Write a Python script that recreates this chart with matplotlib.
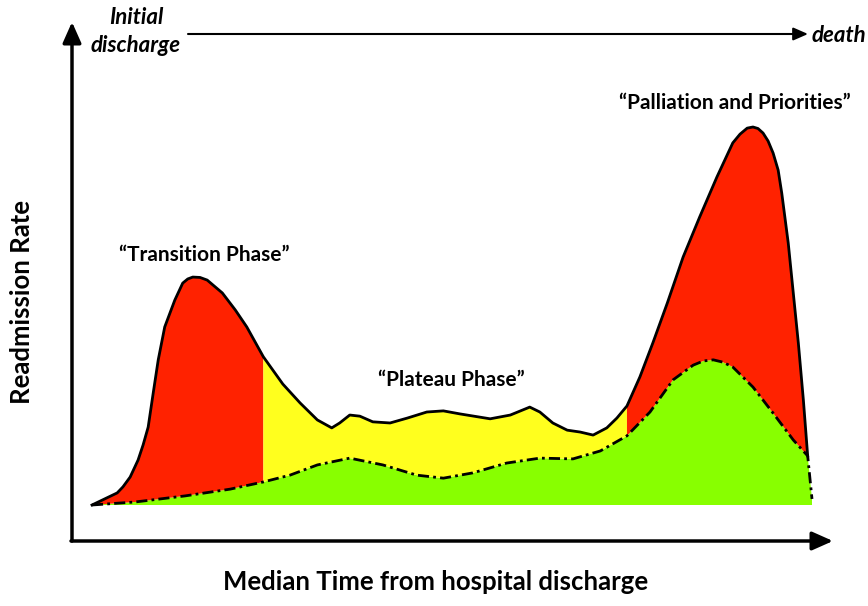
import numpy as np
import matplotlib
matplotlib.use('Agg')
import matplotlib.pyplot as plt
from matplotlib.patches import FancyArrowPatch

# upper curve (overall readmission rate); time in % of survival, rate in % of peak
upper_t = [0, 3.5, 4.3, 5.3, 6.4, 7.1, 7.8, 8.5, 9.2, 10.1, 11.5, 12.6, 13.3, 14.0, 15.0,
           16.0, 18.1, 19.9, 21.5, 23.8, 26.5, 28.9, 31.3, 33.3, 34.4, 35.8, 37.2, 39.0,
           41.4, 43.8, 46.5, 48.8, 51.1, 55.3, 58.1, 60.8, 62.2, 64.0, 66.0, 67.8, 69.6,
           71.5, 72.9, 74.3, 76.1, 77.9, 79.9, 82.1, 84.4, 86.8, 89.0, 90.0, 91.0, 91.8,
           92.5, 93.2, 93.9, 94.6, 95.3, 95.8, 96.7, 97.4, 98.1, 98.8, 99.4]
upper_r = [0, 3.2, 4.8, 7.4, 11.9, 15.9, 20.6, 29.6, 38.4, 47.1, 54.2, 58.7, 59.8, 60.3,
           60.2, 59.5, 56.1, 51.6, 47.1, 39.2, 32.0, 27.0, 22.5, 20.4, 21.7, 23.8, 23.5,
           22.0, 21.7, 23.0, 24.6, 24.9, 24.1, 22.8, 23.8, 25.9, 24.6, 21.7, 19.8, 19.3,
           18.5, 20.4, 23.0, 26.2, 33.9, 42.9, 53.4, 65.6, 76.2, 86.8, 95.8, 98.1, 99.7,
           100, 99.6, 98.4, 96.3, 93.1, 88.6, 82.5, 69.3, 56.1, 42.9, 27.8, 13.0]

# lower curve (dash-dot)
lower_t = [0, 6.0, 12.9, 19.2, 23.8, 27.5, 31.3, 35.8, 40.4, 45.1, 48.8, 52.9, 57.6, 62.2,
           66.8, 70.6, 74.3, 77.5, 80.7, 83.5, 84.9, 86.3, 87.6, 89.0, 91.8, 94.6, 97.4,
           99.4, 100]
lower_r = [0, 0.8, 2.4, 4.2, 6.1, 7.9, 10.6, 12.4, 10.6, 7.9, 7.1, 8.5, 11.1, 12.4,
           12.2, 14.3, 18.3, 24.6, 33.1, 37.0, 38.1, 38.4, 37.8, 36.5, 31.2, 24.3, 17.2,
           13.0, 1.6]

# phase boundaries (red | yellow | red)
phase_edges = [23.8, 74.3]

phase_labels = ['\u201cTransition Phase\u201d', '\u201cPlateau Phase\u201d',
                '\u201cPalliation and Priorities\u201d']

RED = '#FF2200'
YELLOW = '#FFFF1E'
GREEN = '#88FF00'

plt.rcParams['font.family'] = ['Lato', 'DejaVu Sans']

W, H = 868, 606
fig = plt.figure(figsize=(W / 100, H / 100), dpi=100)


def fx(px):
    return px / W


def fy(py):
    return 1 - py / H


# axes placed so that t=0 sits at pixel x 92 and r=0 at pixel y 505
ax = fig.add_axes([0, 0, 1, 1])
ax.set_xlim((0 - 92) / 7.2, (W - 92) / 7.2)
ax.set_ylim((505 - H) / 3.78, 505 / 3.78)
ax.axis('off')

ut = np.array(upper_t)
ur = np.array(upper_r)
lt = np.array(lower_t)
lr = np.array(lower_r)

# green area under the lower curve
ax.fill(np.r_[lt, lt[::-1]], np.r_[lr, np.zeros(len(lr))], color=GREEN, lw=0, zorder=1)


def band(t0, t1, color):
    mu = (ut >= t0) & (ut <= t1)
    ml = (lt >= t0) & (lt <= t1)
    xs = np.r_[ut[mu], lt[ml][::-1]]
    ys = np.r_[ur[mu], lr[ml][::-1]]
    ax.fill(xs, ys, color=color, lw=0, zorder=2)


band(0, phase_edges[0], RED)
band(phase_edges[0], phase_edges[1], YELLOW)
band(phase_edges[1], 101, RED)

ax.plot(ut, ur, color='black', lw=2, zorder=4, solid_joinstyle='round')
ax.plot(lt, lr, color='black', lw=2, zorder=4, dashes=(4, 1.5, 1, 1.5))

# axis arrows
arrow = dict(arrowstyle='-|>,head_length=0.9,head_width=0.4', color='black', lw=2.5,
             shrinkA=0, shrinkB=0, transform=fig.transFigure, mutation_scale=14)
fig.add_artist(FancyArrowPatch((fx(72), fy(541)), (fx(72), fy(22)), **arrow))
fig.add_artist(FancyArrowPatch((fx(71), fy(541)), (fx(833), fy(541)), **arrow))
# top timeline arrow
top = dict(arrowstyle='-|>,head_length=0.8,head_width=0.35', color='black', lw=1.5,
           shrinkA=0, shrinkB=0, transform=fig.transFigure, mutation_scale=11)
fig.add_artist(FancyArrowPatch((fx(188), fy(34)), (fx(808), fy(34)), **top))

fig.text(fx(136), fy(18), 'Initial', ha='center', va='center', fontsize=16,
         fontweight='bold', style='italic')
fig.text(fx(136), fy(45), 'discharge', ha='center', va='center', fontsize=16,
         fontweight='bold', style='italic')
fig.text(fx(812), fy(35), 'death', ha='left', va='center', fontsize=16,
         fontweight='bold', style='italic')

fig.text(fx(204), fy(255), phase_labels[0], ha='center', va='center', fontsize=15,
         fontweight='bold')
fig.text(fx(451), fy(380), phase_labels[1], ha='center', va='center', fontsize=15,
         fontweight='bold')
fig.text(fx(735), fy(103), phase_labels[2], ha='center', va='center', fontsize=15,
         fontweight='bold')

fig.text(fx(22), fy(302), 'Readmission Rate', ha='center', va='center', rotation=90,
         fontsize=18.5, fontweight='bold')
fig.text(fx(436), fy(582), 'Median Time from hospital discharge', ha='center',
         va='center', fontsize=18.5, fontweight='bold')

fig.savefig('out.png', dpi=100, facecolor='white')
